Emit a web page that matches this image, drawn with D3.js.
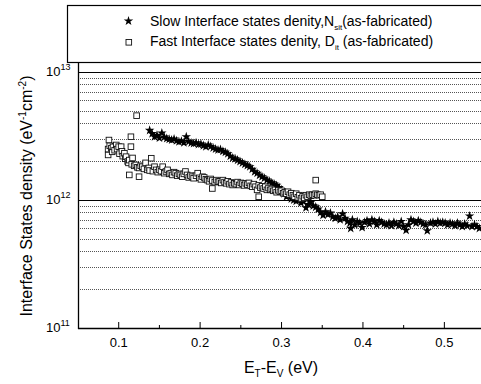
<!DOCTYPE html>
<html>
<head>
<meta charset="utf-8">
<script src="https://cdn.jsdelivr.net/npm/d3@7"></script>
<style>
  body { margin: 0; background: #fff; }
  svg { display: block; font-family: "Liberation Sans", Arial, sans-serif; }
</style>
</head>
<body>
<div id="chart"></div>
<script>
// values in units of 1e12 eV^-1 cm^-2
const unit = 1e12;

// slow interface states N_sit (stars): [E_T-E_V, density]
const slowData = [
  [0.138, 3.50], [0.141, 3.30], [0.144, 3.12], [0.147, 3.20], [0.150, 3.05], [0.153, 3.34],
  [0.156, 3.10], [0.159, 3.02], [0.162, 2.98], [0.165, 2.94], [0.168, 3.00], [0.171, 2.90],
  [0.174, 2.85], [0.177, 2.88], [0.180, 2.80], [0.183, 3.12], [0.186, 2.86], [0.189, 2.79],
  [0.192, 2.76], [0.195, 2.80], [0.198, 2.72], [0.201, 2.74], [0.204, 2.66], [0.207, 2.61],
  [0.210, 2.69], [0.213, 2.62], [0.216, 2.55], [0.219, 2.50], [0.222, 2.46], [0.225, 2.48],
  [0.228, 2.40], [0.231, 2.36], [0.234, 2.30], [0.237, 2.20], [0.240, 2.13], [0.243, 2.10],
  [0.246, 2.05], [0.249, 2.00], [0.252, 1.95], [0.255, 1.90], [0.258, 1.86], [0.261, 1.82],
  [0.264, 1.74], [0.267, 1.66], [0.270, 1.62], [0.273, 1.56], [0.276, 1.52], [0.279, 1.48],
  [0.282, 1.43], [0.285, 1.40], [0.288, 1.36], [0.291, 1.33], [0.294, 1.30], [0.297, 1.25],
  [0.300, 1.20], [0.303, 1.12], [0.306, 1.06], [0.309, 1.09], [0.312, 1.02], [0.315, 1.00],
  [0.318, 0.98], [0.321, 1.03], [0.324, 0.95], [0.327, 0.97], [0.330, 0.87], [0.333, 0.92],
  [0.336, 0.96], [0.339, 0.90], [0.342, 0.88], [0.345, 0.85], [0.348, 0.80], [0.351, 0.76],
  [0.354, 0.81], [0.357, 0.77], [0.360, 0.79], [0.363, 0.74], [0.366, 0.72], [0.369, 0.74],
  [0.372, 0.70], [0.375, 0.78], [0.378, 0.72], [0.381, 0.68], [0.384, 0.66], [0.385, 0.60],
  [0.387, 0.70], [0.390, 0.64], [0.393, 0.68], [0.396, 0.66], [0.399, 0.61], [0.402, 0.67],
  [0.405, 0.69], [0.408, 0.65], [0.411, 0.70], [0.414, 0.68], [0.417, 0.64], [0.420, 0.69],
  [0.423, 0.67], [0.426, 0.65], [0.429, 0.64], [0.432, 0.66], [0.435, 0.63], [0.438, 0.67],
  [0.441, 0.65], [0.444, 0.63], [0.447, 0.68], [0.450, 0.62], [0.453, 0.58], [0.456, 0.64],
  [0.459, 0.70], [0.462, 0.68], [0.465, 0.66], [0.468, 0.69], [0.471, 0.67], [0.474, 0.65],
  [0.477, 0.64], [0.479, 0.575], [0.483, 0.66], [0.486, 0.67], [0.489, 0.65], [0.492, 0.68],
  [0.495, 0.66], [0.498, 0.67], [0.501, 0.66], [0.504, 0.64], [0.507, 0.66], [0.510, 0.65],
  [0.513, 0.63], [0.516, 0.66], [0.519, 0.64], [0.522, 0.62], [0.525, 0.65], [0.528, 0.63],
  [0.531, 0.75], [0.534, 0.62], [0.537, 0.64], [0.540, 0.62], [0.543, 0.60]
];

// fast interface states D_it (open squares): [E_T-E_V, density]
const fastData = [
  [0.087, 2.25], [0.087, 2.50], [0.088, 2.94], [0.089, 2.65], [0.091, 2.54], [0.092, 2.38],
  [0.093, 2.60], [0.095, 2.45], [0.097, 2.69], [0.098, 2.50], [0.100, 2.61], [0.101, 2.30],
  [0.103, 2.61], [0.104, 2.40], [0.105, 2.20], [0.107, 2.32], [0.108, 2.10], [0.109, 2.18],
  [0.111, 2.00], [0.112, 1.95], [0.113, 1.57], [0.113, 2.05], [0.115, 3.12], [0.115, 2.61],
  [0.116, 1.90], [0.117, 2.13], [0.119, 1.85], [0.121, 1.88], [0.122, 4.56], [0.123, 1.80],
  [0.125, 1.52], [0.125, 1.78], [0.127, 1.85], [0.129, 1.82], [0.131, 1.75], [0.133, 1.95],
  [0.135, 1.72], [0.137, 1.78], [0.138, 1.70], [0.140, 2.12], [0.142, 1.68], [0.144, 1.82],
  [0.146, 1.72], [0.148, 1.65], [0.150, 1.72], [0.152, 1.68], [0.154, 1.82], [0.156, 1.62],
  [0.158, 1.67], [0.160, 1.72], [0.162, 1.60], [0.164, 1.62], [0.166, 1.57], [0.168, 1.65],
  [0.170, 1.62], [0.172, 1.55], [0.174, 1.60], [0.176, 1.57], [0.178, 1.52], [0.180, 1.60],
  [0.182, 1.67], [0.184, 1.57], [0.186, 1.50], [0.188, 1.55], [0.190, 1.52], [0.192, 1.48],
  [0.195, 1.55], [0.197, 1.62], [0.199, 1.49], [0.201, 1.45], [0.203, 1.52], [0.205, 1.50],
  [0.207, 1.45], [0.209, 1.43], [0.211, 1.40], [0.213, 1.46], [0.215, 1.23], [0.215, 1.42],
  [0.218, 1.38], [0.220, 1.43], [0.222, 1.39], [0.224, 1.40], [0.226, 1.36], [0.228, 1.43],
  [0.230, 1.38], [0.232, 1.35], [0.234, 1.40], [0.236, 1.33], [0.238, 1.37], [0.240, 1.31],
  [0.242, 1.35], [0.244, 1.33], [0.246, 1.38], [0.248, 1.31], [0.250, 1.36], [0.252, 1.34],
  [0.254, 1.30], [0.256, 1.35], [0.258, 1.32], [0.260, 1.36], [0.262, 1.29], [0.264, 1.27],
  [0.266, 1.33], [0.268, 1.27], [0.270, 1.20], [0.272, 1.06], [0.272, 1.30], [0.274, 1.25],
  [0.276, 1.28], [0.278, 1.23], [0.280, 1.27], [0.282, 1.20], [0.284, 1.24], [0.286, 1.20],
  [0.288, 1.22], [0.290, 1.18], [0.292, 1.20], [0.294, 1.15], [0.296, 1.19], [0.298, 1.16],
  [0.300, 1.18], [0.302, 1.13], [0.304, 1.15], [0.306, 1.12], [0.308, 1.16], [0.310, 1.10],
  [0.312, 1.13], [0.314, 1.09], [0.316, 1.06], [0.318, 1.12], [0.320, 1.05], [0.322, 1.09],
  [0.324, 1.03], [0.326, 1.07], [0.328, 1.04], [0.330, 1.09], [0.332, 1.06], [0.334, 1.10],
  [0.336, 1.08], [0.338, 1.10], [0.340, 1.09], [0.342, 1.43], [0.342, 1.12], [0.344, 1.10],
  [0.346, 1.09], [0.348, 1.10], [0.350, 1.06]
];

const xTicks = [0.1, 0.2, 0.3, 0.4, 0.5];
const xMinorTicks = [0.15, 0.25, 0.35, 0.45];
const yMajor = [1e11, 1e12, 1e13];
const yExponents = ['11', '12', '13'];
const yMinor = [2e11, 3e11, 4e11, 5e11, 6e11, 7e11, 8e11, 9e11,
                2e12, 3e12, 4e12, 5e12, 6e12, 7e12, 8e12, 9e12];

const width = 481, height = 384;
const plotLeft = 78, plotRight = 481, plotBottom = 328, plotTop = 63;

const svg = d3.select('#chart').append('svg')
  .attr('width', width)
  .attr('height', height);

const x = d3.scaleLinear().domain([0.05, 0.545]).range([plotLeft, plotRight]);
const y = d3.scaleLog().domain([1e11, 1e13]).range([plotBottom, 72]);

// grid lines
svg.append('g').selectAll('line')
  .data(yMinor)
  .enter().append('line')
  .attr('x1', plotLeft).attr('x2', plotRight)
  .attr('y1', d => Math.round(y(d)) + 0.5).attr('y2', d => Math.round(y(d)) + 0.5)
  .attr('stroke', '#555')
  .attr('stroke-width', 1)
  .attr('stroke-dasharray', '1,1');

svg.append('g').selectAll('line')
  .data(yMajor.slice(1))
  .enter().append('line')
  .attr('x1', plotLeft).attr('x2', plotRight)
  .attr('y1', d => Math.round(y(d)) + 0.5).attr('y2', d => Math.round(y(d)) + 0.5)
  .attr('stroke', '#000')
  .attr('stroke-width', 1.2);

// axes lines
svg.append('line')
  .attr('x1', plotLeft + 0.5).attr('x2', plotLeft + 0.5)
  .attr('y1', plotTop).attr('y2', plotBottom + 1)
  .attr('stroke', '#000').attr('stroke-width', 1.3);
svg.append('line')
  .attr('x1', plotLeft).attr('x2', plotRight)
  .attr('y1', plotBottom + 0.5).attr('y2', plotBottom + 0.5)
  .attr('stroke', '#000').attr('stroke-width', 1.3);

// x ticks (inward)
svg.append('g').selectAll('line')
  .data(xTicks)
  .enter().append('line')
  .attr('x1', d => x(d)).attr('x2', d => x(d))
  .attr('y1', plotBottom).attr('y2', plotBottom - 6)
  .attr('stroke', '#000');
svg.append('g').selectAll('line')
  .data(xMinorTicks)
  .enter().append('line')
  .attr('x1', d => x(d)).attr('x2', d => x(d))
  .attr('y1', plotBottom).attr('y2', plotBottom - 3)
  .attr('stroke', '#000');

svg.append('g').selectAll('text')
  .data(xTicks)
  .enter().append('text')
  .attr('x', d => x(d))
  .attr('y', plotBottom + 19)
  .attr('text-anchor', 'middle')
  .attr('font-size', 13)
  .text(d => d.toFixed(1));

// y tick labels 10^n
const yLab = svg.append('g').selectAll('text')
  .data(yMajor)
  .enter().append('text')
  .attr('x', 46)
  .attr('y', d => y(d) + 4)
  .attr('font-size', 13);
yLab.append('tspan').text('10');
yLab.append('tspan')
  .attr('dy', -6)
  .attr('font-size', 9)
  .text((d, i) => yExponents[i]);

// data: stars then squares
const star = d3.symbol().type(d3.symbolStar).size(28);
svg.append('g').selectAll('path')
  .data(slowData)
  .enter().append('path')
  .attr('d', star)
  .attr('transform', d => `translate(${x(d[0])},${y(d[1] * unit)})`)
  .attr('fill', '#000');

svg.append('g').selectAll('rect')
  .data(fastData)
  .enter().append('rect')
  .attr('x', d => x(d[0]) - 2.8)
  .attr('y', d => y(d[1] * unit) - 2.8)
  .attr('width', 5.6).attr('height', 5.6)
  .attr('fill', '#fff')
  .attr('stroke', '#111')
  .attr('stroke-width', 0.9);

// axis titles
const xt = svg.append('text')
  .attr('x', 281).attr('y', 373)
  .attr('text-anchor', 'middle')
  .attr('font-size', 16);
xt.append('tspan').text('E');
xt.append('tspan').attr('dy', 4).attr('font-size', 10).text('T');
xt.append('tspan').attr('dy', -4).text('-E');
xt.append('tspan').attr('dy', 4).attr('font-size', 10).text('V');
xt.append('tspan').attr('dy', -4).text(' (eV)');

const yt = svg.append('text')
  .attr('transform', 'translate(32,196) rotate(-90)')
  .attr('text-anchor', 'middle')
  .attr('font-size', 16);
yt.append('tspan').text('Interface States density (eV');
yt.append('tspan').attr('dy', -6).attr('font-size', 10).text('-1');
yt.append('tspan').attr('dy', 6).text('cm');
yt.append('tspan').attr('dy', -6).attr('font-size', 10).text('-2');
yt.append('tspan').attr('dy', 6).text(')');

// legend
svg.append('rect')
  .attr('x', 67.5).attr('y', 5.5)
  .attr('width', 430).attr('height', 57)
  .attr('fill', '#fff')
  .attr('stroke', '#000')
  .attr('stroke-width', 1.2);

svg.append('path')
  .attr('d', d3.symbol().type(d3.symbolStar).size(28))
  .attr('transform', 'translate(128.5,21)')
  .attr('fill', '#000');
svg.append('rect')
  .attr('x', 126).attr('y', 39.5)
  .attr('width', 5.6).attr('height', 5.6)
  .attr('fill', '#fff').attr('stroke', '#111').attr('stroke-width', 0.9);

const l1 = svg.append('text').attr('x', 150).attr('y', 26).attr('font-size', 14);
l1.append('tspan').text('Slow Interface states denity,N');
l1.append('tspan').attr('dy', 4).attr('font-size', 8).text('sit');
l1.append('tspan').attr('dy', -4).text('(as-fabricated)');

const l2 = svg.append('text').attr('x', 150).attr('y', 46).attr('font-size', 14);
l2.append('tspan').text('Fast Interface states denity, D');
l2.append('tspan').attr('dy', 4).attr('font-size', 8).text('it');
l2.append('tspan').attr('dy', -4).text(' (as-fabricated)');
</script>
</body>
</html>
